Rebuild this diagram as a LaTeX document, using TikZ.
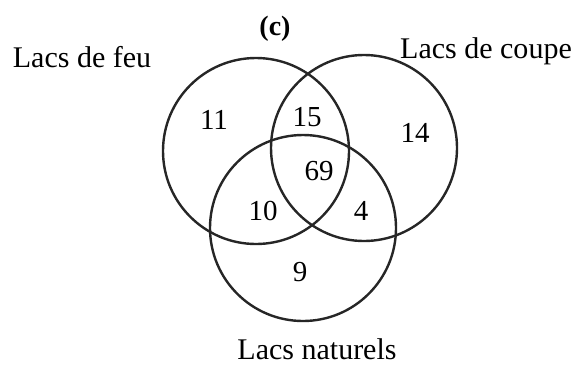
\documentclass[tikz,border=0pt]{standalone}
\usepackage{fontspec}
\setmainfont{Liberation Serif}
\usepackage{tikz}
\usetikzlibrary{positioning}

\begin{document}
\begin{tikzpicture}[x=1pt,y=-1pt,
    cercle/.style={line width=2.4pt,black!85},
    ensemble/.style={font=\fontsize{30}{36}\selectfont,anchor=base,inner sep=0pt},
    effectif/.style={font=\fontsize{29}{34}\selectfont,inner sep=0pt}]
  \useasboundingbox (0,0) rectangle (577,365);
  % les trois ensembles
  \draw[cercle] (256,151) circle (93);
  \draw[cercle] (364,148) circle (93);
  \draw[cercle] (303,228) circle (93);
  % titre et noms des ensembles
  \node[font=\fontsize{28}{32}\selectfont\bfseries,anchor=base,inner sep=0pt] (titre) at (275,35) {(c)};
  \node[ensemble] (feu) at (82,67) {Lacs de feu};
  \node[ensemble] (coupe) at (486,58) {Lacs de coupe};
  \node[ensemble] (naturels) at (317,359) {Lacs naturels};
  % effectifs
  \node[effectif] (nF) at (214,120) {11};
  \node[effectif] (nFC) at (307,117) {15};
  \node[effectif] (nC) at (415,133) {14};
  \node[effectif] (nFCN) at (319,171) {69};
  \node[effectif] (nFN) at (263,211) {10};
  \node[effectif] (nCN) at (361,211) {4};
  \node[effectif] (nN) at (300,272) {9};
\end{tikzpicture}
\end{document}
